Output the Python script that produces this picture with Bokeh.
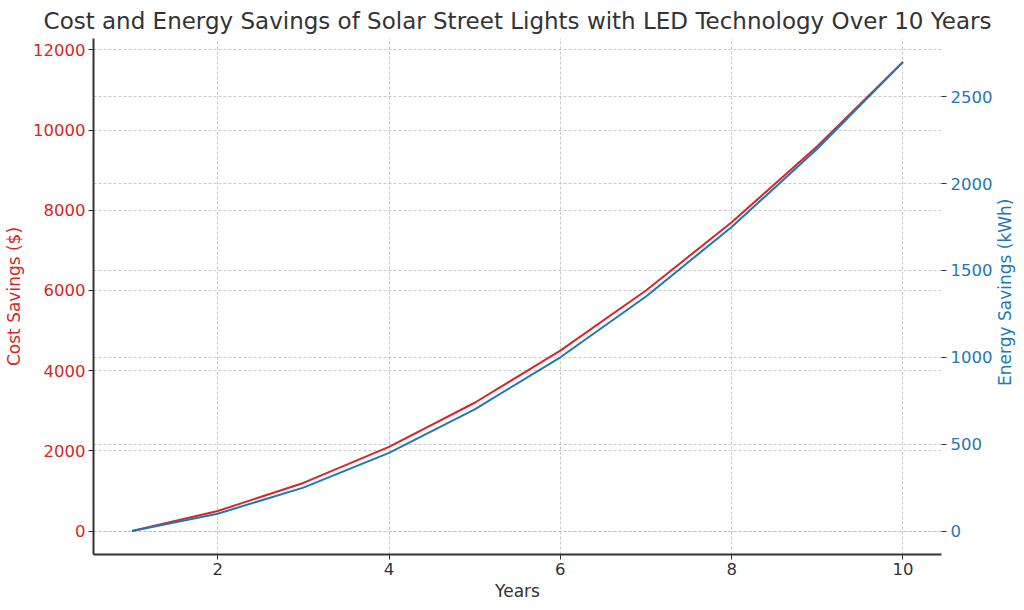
import math
from bokeh.plotting import figure
from bokeh.layouts import row
from bokeh.models import Range1d, LinearAxis, Grid, FixedTicker, ColumnDataSource
from bokeh.core.properties import value
from bokeh.embed import file_html
from bokeh.resources import INLINE

years = [1, 2, 3, 4, 5, 6, 7, 8, 9, 10]
cost_savings = [0, 500, 1200, 2100, 3200, 4500, 6000, 7700, 9600, 11700]
energy_savings = [0, 100, 250, 450, 700, 1000, 1350, 1750, 2200, 2700]
x_ticks = [2, 4, 6, 8, 10]
cost_ticks = [0, 2000, 4000, 6000, 8000, 10000, 12000]
energy_ticks = [0, 500, 1000, 1500, 2000, 2500]

RED = "#d62728"
BLUE = "#1f77b4"
DARK = "#333333"
FONT = "DejaVu Sans"
TICK_SIZE = "16.5px"
LABEL_SIZE = "17px"
TITLE = "Cost and Energy Savings of Solar Street Lights with LED Technology Over 10 Years"

src = ColumnDataSource(dict(x=years, cost=cost_savings, energy=energy_savings))

p = figure(width=996, height=610, output_backend="svg", toolbar_location=None,
           x_range=Range1d(0.55, 10.45), y_range=Range1d(-585, 12285),
           min_border_left=93, min_border_right=55, min_border_top=37, min_border_bottom=56,
           title=TITLE)
p.extra_y_ranges = {"energy": Range1d(-135, 2835)}
p.title.align = "center"
p.title.text_font = FONT
p.title.text_font_size = "23px"
p.title.text_font_style = "normal"
p.title.text_color = DARK
p.outline_line_color = None
p.background_fill_color = "white"
p.border_fill_color = "white"

# x axis
xa = p.xaxis[0]
xa.ticker = FixedTicker(ticks=x_ticks)
xa.axis_label = "Years"
xa.axis_label_text_font = FONT
xa.axis_label_text_font_size = LABEL_SIZE
xa.axis_label_text_font_style = "normal"
xa.axis_label_text_color = DARK
xa.axis_label_standoff = 3
xa.major_label_standoff = 3
xa.major_label_text_font = FONT
xa.major_label_text_font_size = TICK_SIZE
xa.major_label_text_color = DARK
xa.axis_line_color = DARK
xa.axis_line_width = 2
xa.major_tick_line_color = DARK
xa.major_tick_out = 5
xa.major_tick_in = 0
xa.minor_tick_line_color = None

# left axis
ya = p.yaxis[0]
ya.ticker = FixedTicker(ticks=cost_ticks)
ya.axis_label = "Cost Savings ($)"
ya.axis_label_text_font = FONT
ya.axis_label_text_font_size = LABEL_SIZE
ya.axis_label_text_font_style = "normal"
ya.axis_label_text_color = RED
ya.axis_label_standoff = 6
ya.major_label_standoff = 3
ya.major_label_text_font = FONT
ya.major_label_text_font_size = TICK_SIZE
ya.major_label_text_color = RED
ya.axis_line_color = DARK
ya.axis_line_width = 2
ya.major_tick_line_color = DARK
ya.major_tick_out = 5
ya.major_tick_in = 0
ya.minor_tick_line_color = None

# right axis with ticks
ra = LinearAxis(y_range_name="energy", ticker=FixedTicker(ticks=energy_ticks))
ra.major_label_standoff = 4
ra.major_label_text_font = FONT
ra.major_label_text_font_size = TICK_SIZE
ra.major_label_text_color = BLUE
ra.axis_line_color = None
ra.major_tick_line_color = DARK
ra.major_tick_out = 5
ra.major_tick_in = 0
ra.minor_tick_line_color = None
p.add_layout(ra, "right")

# grids
for g in p.grid:
    g.grid_line_color = "#bbbbbb"
    g.grid_line_dash = "3 2"
    g.grid_line_width = 1
    g.grid_line_alpha = 0.8
rg = Grid(dimension=1, axis=ra, y_range_name="energy", grid_line_color="#bbbbbb",
          grid_line_dash="3 2", grid_line_width=1, grid_line_alpha=0.8)
p.add_layout(rg, "center")

p.line("x", "cost", source=src, line_color=RED, line_width=2)
p.line("x", "energy", source=src, y_range_name="energy", line_color=BLUE, line_width=2)

# right axis label reading bottom-to-top, in a narrow strip beside the plot
lab = figure(width=28, height=610, output_backend="svg", toolbar_location=None,
             x_range=Range1d(0, 28), y_range=Range1d(0, 610), min_border=0)
lab.outline_line_color = None
lab.axis.visible = False
lab.grid.visible = False
lab.text(x=[8], y=[310], text=["Energy Savings (kWh)"], angle=math.pi / 2,
         text_align="center", text_baseline="middle", text_font=value(FONT),
         text_font_size=value(LABEL_SIZE), text_color=BLUE)

layout = row(p, lab, spacing=0)
open("out.html", "w").write(file_html(layout, INLINE))
